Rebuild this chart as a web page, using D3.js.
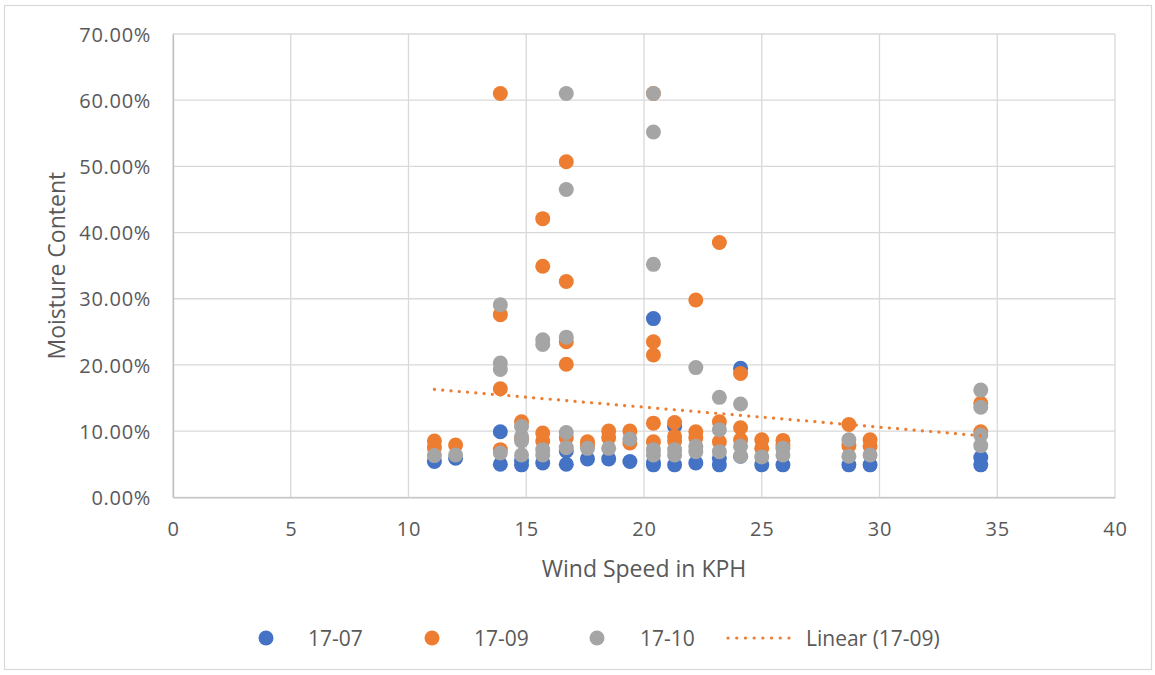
<!DOCTYPE html>
<html>
<head>
<meta charset="utf-8">
<script src="https://cdn.jsdelivr.net/npm/d3@7"></script>
<style>
  html, body { margin: 0; padding: 0; background: #fff; }
  svg { display: block; font-family: "Open Sans", "Noto Sans", sans-serif; }
</style>
</head>
<body>
<svg id="chart" width="1155" height="675"></svg>
<script>
// ---- data (wind speed in KPH, moisture content in %) ----
const seriesNames = ["17-07", "17-09", "17-10"];
const seriesColors = ["#4472C4", "#ED7D31", "#A5A5A5"];

const s1707x = [11.1, 12.0, 13.9, 13.9, 14.8, 14.8, 15.7, 16.7, 16.7, 17.6, 18.5, 19.4,
  20.4, 20.4, 20.4, 21.3, 21.3, 22.2, 23.2, 23.2, 24.1, 24.1, 25.0, 25.9, 28.7, 29.6, 34.3, 34.3];
const s1707y = [5.4, 5.9, 9.9, 5.0, 4.9, 5.6, 5.2, 5.0, 7.0, 5.8, 5.8, 5.4,
  27.0, 5.2, 4.9, 10.7, 4.9, 5.2, 5.9, 4.9, 19.5, 6.2, 4.9, 4.9, 4.9, 4.9, 6.0, 4.9];

const s1709x = [11.1, 11.1, 12.0, 13.9, 13.9, 13.9, 13.9, 14.8, 14.8, 15.7, 15.7, 15.7, 15.7,
  16.7, 16.7, 16.7, 16.7, 16.7, 17.6, 17.6, 18.5, 18.5, 19.4, 19.4,
  20.4, 20.4, 20.4, 20.4, 20.4, 21.3, 21.3, 21.3, 22.2, 22.2, 22.2, 23.2, 23.2, 23.2,
  24.1, 24.1, 24.1, 25.0, 25.0, 25.9, 25.9, 28.7, 28.7, 29.6, 29.6, 34.3, 34.3];
const s1709y = [8.5, 7.5, 7.9, 61.0, 27.6, 16.4, 7.2, 11.4, 8.8, 42.1, 34.9, 9.7, 8.5,
  50.7, 32.6, 23.5, 20.1, 9.0, 8.4, 7.8, 10.0, 9.0, 10.0, 8.2,
  61.0, 23.5, 21.5, 11.2, 8.4, 11.3, 9.2, 8.5, 29.8, 9.9, 9.0, 38.5, 11.4, 8.4,
  18.7, 10.5, 8.7, 8.7, 7.4, 8.6, 7.8, 11.0, 7.8, 8.7, 7.7, 14.2, 9.9];

const s1710x = [11.1, 12.0, 13.9, 13.9, 13.9, 13.9, 14.8, 14.8, 14.8, 14.8, 15.7, 15.7, 15.7, 15.7,
  16.7, 16.7, 16.7, 16.7, 16.7, 17.6, 18.5, 19.4, 20.4, 20.4, 20.4, 20.4, 20.4, 21.3, 21.3,
  22.2, 22.2, 22.2, 23.2, 23.2, 23.2, 24.1, 24.1, 24.1, 25.0, 25.9, 25.9, 28.7, 28.7, 29.6,
  34.3, 34.3, 34.3, 34.3];
const s1710y = [6.3, 6.4, 29.1, 20.3, 19.3, 6.7, 10.7, 9.2, 8.5, 6.4, 23.8, 23.1, 7.2, 6.4,
  61.0, 46.5, 24.2, 9.8, 7.5, 7.4, 7.4, 8.8, 61.0, 55.2, 35.2, 7.2, 6.4, 7.2, 6.4,
  19.6, 7.7, 6.9, 15.1, 10.2, 6.9, 14.1, 7.7, 6.2, 6.1, 7.4, 6.4, 8.7, 6.2, 6.4,
  16.2, 13.6, 9.4, 7.8];

// Linear trendline of 17-09 (endpoints at series min/max x)
const trendX = [11.1, 34.3];
const trendY = [16.3, 9.3];

const xTicks = [0, 5, 10, 15, 20, 25, 30, 35, 40];
const yTicks = [0, 10, 20, 30, 40, 50, 60, 70];

const xTitle = "Wind Speed in KPH";
const yTitle = "Moisture Content";
const trendName = "Linear (17-09)";

// ---- drawing ----
const svg = d3.select("#chart");
const W = 1155, H = 675;
const plot = { left: 173, right: 1115, top: 34, bottom: 497.3 };
const textColor = "#595959";
const gridColor = "#D9D9D9";

svg.append("rect").attr("x", 0).attr("y", 0).attr("width", W).attr("height", H).attr("fill", "#fff");
svg.append("rect").attr("x", 4.5).attr("y", 5.5).attr("width", 1147).attr("height", 664)
  .attr("fill", "none").attr("stroke", "#D9D9D9").attr("stroke-width", 1.2);

const x = d3.scaleLinear().domain([0, 40]).range([plot.left, plot.right]);
const y = d3.scaleLinear().domain([0, 70]).range([plot.bottom, plot.top]);

// gridlines
const grid = svg.append("g");
grid.selectAll("line.v").data(xTicks).join("line").attr("class", "v")
  .attr("x1", d => x(d)).attr("x2", d => x(d)).attr("y1", plot.top).attr("y2", plot.bottom)
  .attr("stroke", gridColor).attr("stroke-width", 1.3);
grid.selectAll("line.h").data(yTicks).join("line").attr("class", "h")
  .attr("y1", d => y(d)).attr("y2", d => y(d)).attr("x1", plot.left).attr("x2", plot.right)
  .attr("stroke", gridColor).attr("stroke-width", 1.3);

// axes
const fmtPct = d => d3.format(".2f")(d) + "%";
const xAxis = d3.axisBottom(x).tickValues(xTicks).tickSize(0).tickPadding(22);
const yAxis = d3.axisLeft(y).tickValues(yTicks).tickFormat(fmtPct).tickSize(0).tickPadding(22);

const gx = svg.append("g").attr("transform", `translate(0,${plot.bottom})`).call(xAxis);
const gy = svg.append("g").attr("transform", `translate(${plot.left},0)`).call(yAxis);
[gx, gy].forEach(g => {
  g.select(".domain").attr("stroke", "#BFBFBF").attr("stroke-width", 1.3);
  g.selectAll("text").attr("fill", textColor).style("font-size", "20px")
    .style("letter-spacing", "0.7px")
    .style("font-family", '"Open Sans", sans-serif');
});
gx.selectAll("text").attr("dy", "0.36em").attr("y", 32);
gy.selectAll("text").attr("dy", "0.36em");

// axis titles
svg.append("text").attr("x", (plot.left + plot.right) / 2).attr("y", 577)
  .attr("text-anchor", "middle").attr("fill", textColor).style("font-size", "23px").text(xTitle);
svg.append("text").attr("transform", `translate(65,${(plot.top + plot.bottom) / 2}) rotate(-90)`)
  .attr("text-anchor", "middle").attr("fill", textColor).style("font-size", "23px").text(yTitle);

// points
const series = [
  { name: seriesNames[0], color: seriesColors[0], xs: s1707x, ys: s1707y },
  { name: seriesNames[1], color: seriesColors[1], xs: s1709x, ys: s1709y },
  { name: seriesNames[2], color: seriesColors[2], xs: s1710x, ys: s1710y }
];
const r = 7.5;
series.forEach(s => {
  const pts = s.xs.map((v, i) => ({ x: v, y: s.ys[i] }));
  svg.append("g").selectAll("circle").data(pts).join("circle")
    .attr("cx", d => x(d.x)).attr("cy", d => y(d.y)).attr("r", r)
    .attr("fill", s.color);
});

// trendline
const trendPts = trendX.map((v, i) => ({ x: v, y: trendY[i] }));
svg.append("path").datum(trendPts)
  .attr("d", d3.line().x(d => x(d.x)).y(d => y(d.y)))
  .attr("fill", "none").attr("stroke", seriesColors[1]).attr("stroke-width", 3.2)
  .attr("stroke-linecap", "round").attr("stroke-dasharray", "0.1 8.2");

// legend
const legY = 638;
const leg = svg.append("g");
const legItems = [
  { type: "dot", color: seriesColors[0], label: seriesNames[0], mx: 266, tx: 308 },
  { type: "dot", color: seriesColors[1], label: seriesNames[1], mx: 432, tx: 474 },
  { type: "dot", color: seriesColors[2], label: seriesNames[2], mx: 597, tx: 640 },
  { type: "line", color: seriesColors[1], label: trendName, mx: 728, tx: 806 }
];
legItems.forEach(it => {
  if (it.type === "dot") {
    leg.append("circle").attr("cx", it.mx).attr("cy", legY).attr("r", r).attr("fill", it.color);
  } else {
    leg.append("line").attr("x1", it.mx).attr("x2", it.mx + 69).attr("y1", legY).attr("y2", legY)
      .attr("stroke", it.color).attr("stroke-width", 3.2).attr("stroke-linecap", "round")
      .attr("stroke-dasharray", "0.1 8.6");
  }
  leg.append("text").attr("x", it.tx).attr("y", legY).attr("dy", "0.36em")
    .attr("fill", textColor).style("font-size", "21px").text(it.label);
});
</script>
</body>
</html>
